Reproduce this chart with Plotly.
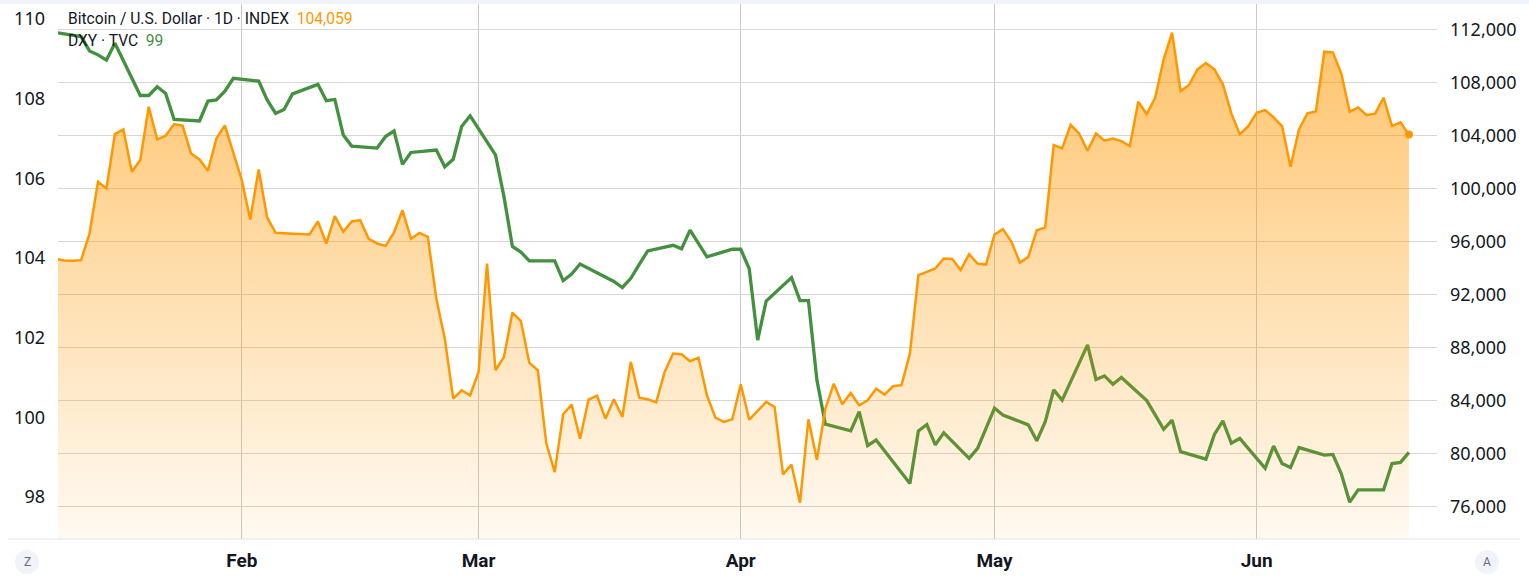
import pandas as pd
import plotly.graph_objects as go

# ---------------- data ----------------
btc_start = "2025-01-10"
btc_end = "2025-06-19"
btc_close = [
    # Jan 10 - Jan 31
    94700, 94560, 94540, 94590, 96600, 100500, 100000, 104100, 104450, 101260,
    102140, 106160, 103700, 103970, 104850, 104730, 102640, 102190, 101330, 103770,
    104750, 102640,
    # Feb
    100630, 97660, 101430, 97810, 96650, 96620, 96580, 96550, 96530, 97510,
    95850, 97910, 96730, 97510, 97610, 96200, 95850, 95670, 96680, 98360,
    96200, 96650, 96350, 91700, 88680, 84150, 84780, 84400,
    # Mar
    86160, 94340, 86290, 87290, 90640, 89990, 86840, 86290, 80800, 78610,
    82970, 83700, 81130, 84070, 84370, 82640, 84100, 82760, 86920, 84220,
    84100, 83870, 86160, 87550, 87490, 86970, 87240, 84400, 82710, 82390,
    82590,
    # Apr
    85230, 82560, 83220, 83900, 83520, 78440, 79170, 76300, 82590, 79540,
    83390, 85280, 83720, 84580, 83650, 84020, 84900, 84450, 85080, 85160,
    87550, 93460, 93710, 93960, 94720, 94690, 93840, 95040, 94340, 94260,
    # May
    96530, 96930, 95970, 94410, 94840, 96850, 97060, 103270, 103020, 104800,
    104150, 102840, 104150, 103600, 103770, 103570, 103190, 106540, 105610, 106840,
    109740, 111750, 107350, 107800, 108980, 109460, 108980, 107850, 105660, 104080,
    104700,
    # Jun 1 - Jun 19
    105710, 105910, 105360, 104700, 101630, 104450, 105660, 105810, 110310, 110260,
    108680, 105790, 106110, 105530, 105640, 106840, 104700, 104980, 104059,
]

dxy_holidays = ["2025-04-18"]
dxy_close = [
    # Jan
    109.66, 109.56, 109.20, 109.10, 108.97, 109.39, 108.08, 108.08, 108.30, 108.13,
    107.48, 107.44, 107.94, 107.97, 108.19, 108.51,
    # Feb
    108.44, 107.97, 107.63, 107.73, 108.12, 108.36, 107.95, 107.98, 107.09, 106.81,
    106.76, 107.05, 107.19, 106.35, 106.65, 106.71, 106.29, 106.48, 107.30, 107.57,
    # Mar
    106.59, 105.54, 104.29, 104.15, 103.93, 103.93, 103.43, 103.60, 103.85, 103.74,
    103.41, 103.26, 103.49, 103.84, 104.18, 104.32, 104.23, 104.70, 104.35, 104.03,
    104.22,
    # Apr
    104.22, 103.73, 101.94, 102.92, 103.51, 102.93, 102.93, 100.94, 99.83, 99.66,
    100.14, 99.29, 99.43, 98.34, 99.66, 99.82, 99.31, 99.61, 98.97, 99.22,
    99.72,
    # May
    100.23, 100.06, 99.81, 99.41, 99.89, 100.69, 100.43, 101.82, 100.95, 101.04,
    100.83, 101.00, 100.42, 100.06, 99.70, 99.93, 99.14, 98.95, 99.57, 99.91,
    99.35, 99.47,
    # Jun
    98.72, 99.28, 98.84, 98.74, 99.24, 99.05, 99.07, 98.59, 97.87, 98.18,
    98.18, 98.84, 98.87, 99.12,
]

month_ticks = ["2025-02-01", "2025-03-01", "2025-04-01", "2025-05-01", "2025-06-01"]
month_labels = ["Feb", "Mar", "Apr", "May", "Jun"]
dxy_ticks = [98, 100, 102, 104, 106, 108, 110]
btc_ticks = [76000, 80000, 84000, 88000, 92000, 96000, 100000, 104000, 108000, 112000]

btc_dates = pd.date_range(btc_start, btc_end, freq="D")
dxy_dates = pd.bdate_range(btc_start, btc_end)
dxy_dates = dxy_dates[~dxy_dates.isin(pd.to_datetime(dxy_holidays))]

# ---------------- styling ----------------
ORANGE = "#FF9800"
GREEN = "#43913F"
TEXT = "#131722"

W, H = 1529, 576
L, R, T, B = 58, 92, 4, 37
PW, PH = W - L - R, H - T - B

fig = go.Figure()

fig.add_trace(go.Scatter(
    x=dxy_dates, y=dxy_close, mode="lines", name="DXY · TVC",
    line=dict(color=GREEN, width=3.3), yaxis="y", hoverinfo="skip",
))

fig.add_trace(go.Scatter(
    x=btc_dates, y=btc_close, mode="lines", name="Bitcoin / U.S. Dollar",
    line=dict(color=ORANGE, width=2.5), yaxis="y2", fill="tozeroy",
    fillgradient=dict(
        type="vertical",
        colorscale=[[0, "rgba(255,152,0,0.05)"], [1, "rgba(255,152,0,0.58)"]],
        start=73500, stop=111750,
    ),
    hoverinfo="skip",
))

fig.add_trace(go.Scatter(
    x=[btc_dates[-1]], y=[btc_close[-1]], mode="markers", yaxis="y2",
    marker=dict(color=ORANGE, size=8), hoverinfo="skip", showlegend=False,
))

fig.update_layout(
    width=W, height=H, autosize=False,
    margin=dict(l=L, r=R, t=T, b=B),
    paper_bgcolor="white", plot_bgcolor="white",
    showlegend=False,
    font=dict(family="Noto Sans, Roboto, sans-serif", color=TEXT),
    xaxis=dict(
        range=["2025-01-10 06:30", "2025-06-22 07:40"],
        tickmode="array", tickvals=month_ticks, ticktext=month_labels,
        showgrid=True, gridcolor="#c9c9c9", gridwidth=1,
        zeroline=False, showline=False, ticks="",
        tickfont=dict(family="Roboto, sans-serif", size=19, color=TEXT, weight="bold"),
        ticklabelstandoff=8,
    ),
    yaxis=dict(
        range=[96.946, 110.377], side="left",
        tickmode="array", tickvals=dxy_ticks,
        showgrid=False, zeroline=False, showline=False, ticks="",
        tickfont=dict(family="Noto Sans, sans-serif", size=18, color=TEXT),
        ticklabelstandoff=12,
    ),
    yaxis2=dict(
        range=[73564, 113908], side="right", overlaying="y",
        tickmode="array", tickvals=btc_ticks, tickformat=",d",
        showgrid=True, gridcolor="#d6d6d6", gridwidth=1,
        zeroline=False, showline=False, ticks="",
        tickfont=dict(family="Noto Sans, sans-serif", size=18, color=TEXT),
        ticklabelstandoff=12,
    ),
)

def px_x(px):
    return (px - L) / PW

def px_y(py):
    return (H - B - py) / PH

shapes = [
    # top strip
    dict(type="rect", xref="paper", yref="paper", x0=px_x(0), x1=px_x(W),
         y0=1, y1=px_y(0), fillcolor="#f0f3fa", line=dict(width=0), layer="below"),
    # bottom separator
    dict(type="line", xref="paper", yref="paper", x0=px_x(8), x1=px_x(1520),
         y0=0, y1=0, line=dict(color="#e0e3eb", width=1)),
    # Z / A buttons
    dict(type="circle", xref="paper", yref="paper",
         x0=px_x(15), x1=px_x(39), y0=px_y(574), y1=px_y(550),
         fillcolor="#f0f3fa", line=dict(width=0)),
    dict(type="circle", xref="paper", yref="paper",
         x0=px_x(1475), x1=px_x(1499), y0=px_y(574), y1=px_y(550),
         fillcolor="#f0f3fa", line=dict(width=0)),
]
fig.update_layout(shapes=shapes)

nb = "\u00a0"
annotations = [
    dict(xref="paper", yref="paper", x=px_x(66), y=px_y(19), xanchor="left", yanchor="middle",
         showarrow=False, align="left",
         font=dict(family="Roboto, sans-serif", size=15.6, color=TEXT),
         text=f"Bitcoin / U.S. Dollar · 1D · INDEX{nb}{nb}<span style='color:{ORANGE}'>{btc_close[-1]:,}</span>"),
    dict(xref="paper", yref="paper", x=px_x(66), y=px_y(41), xanchor="left", yanchor="middle",
         showarrow=False, align="left",
         font=dict(family="Roboto, sans-serif", size=15.6, color=TEXT),
         text=f"DXY · TVC{nb}{nb}<span style='color:{GREEN}'>{dxy_close[-1]:.0f}</span>"),
    dict(xref="paper", yref="paper", x=px_x(27), y=px_y(562), xanchor="center", yanchor="middle",
         showarrow=False, text="Z", font=dict(family="Roboto, sans-serif", size=12, color="#6a6d78")),
    dict(xref="paper", yref="paper", x=px_x(1487), y=px_y(562), xanchor="center", yanchor="middle",
         showarrow=False, text="A", font=dict(family="Roboto, sans-serif", size=12, color="#6a6d78")),
]
fig.update_layout(annotations=annotations)

assert len(btc_dates) == len(btc_close)
assert len(dxy_dates) == len(dxy_close)

fig.write_html(
    "out.html",
    config={"displayModeBar": False},
    post_script="document.body.style.margin='0';document.body.style.overflow='hidden';",
)
